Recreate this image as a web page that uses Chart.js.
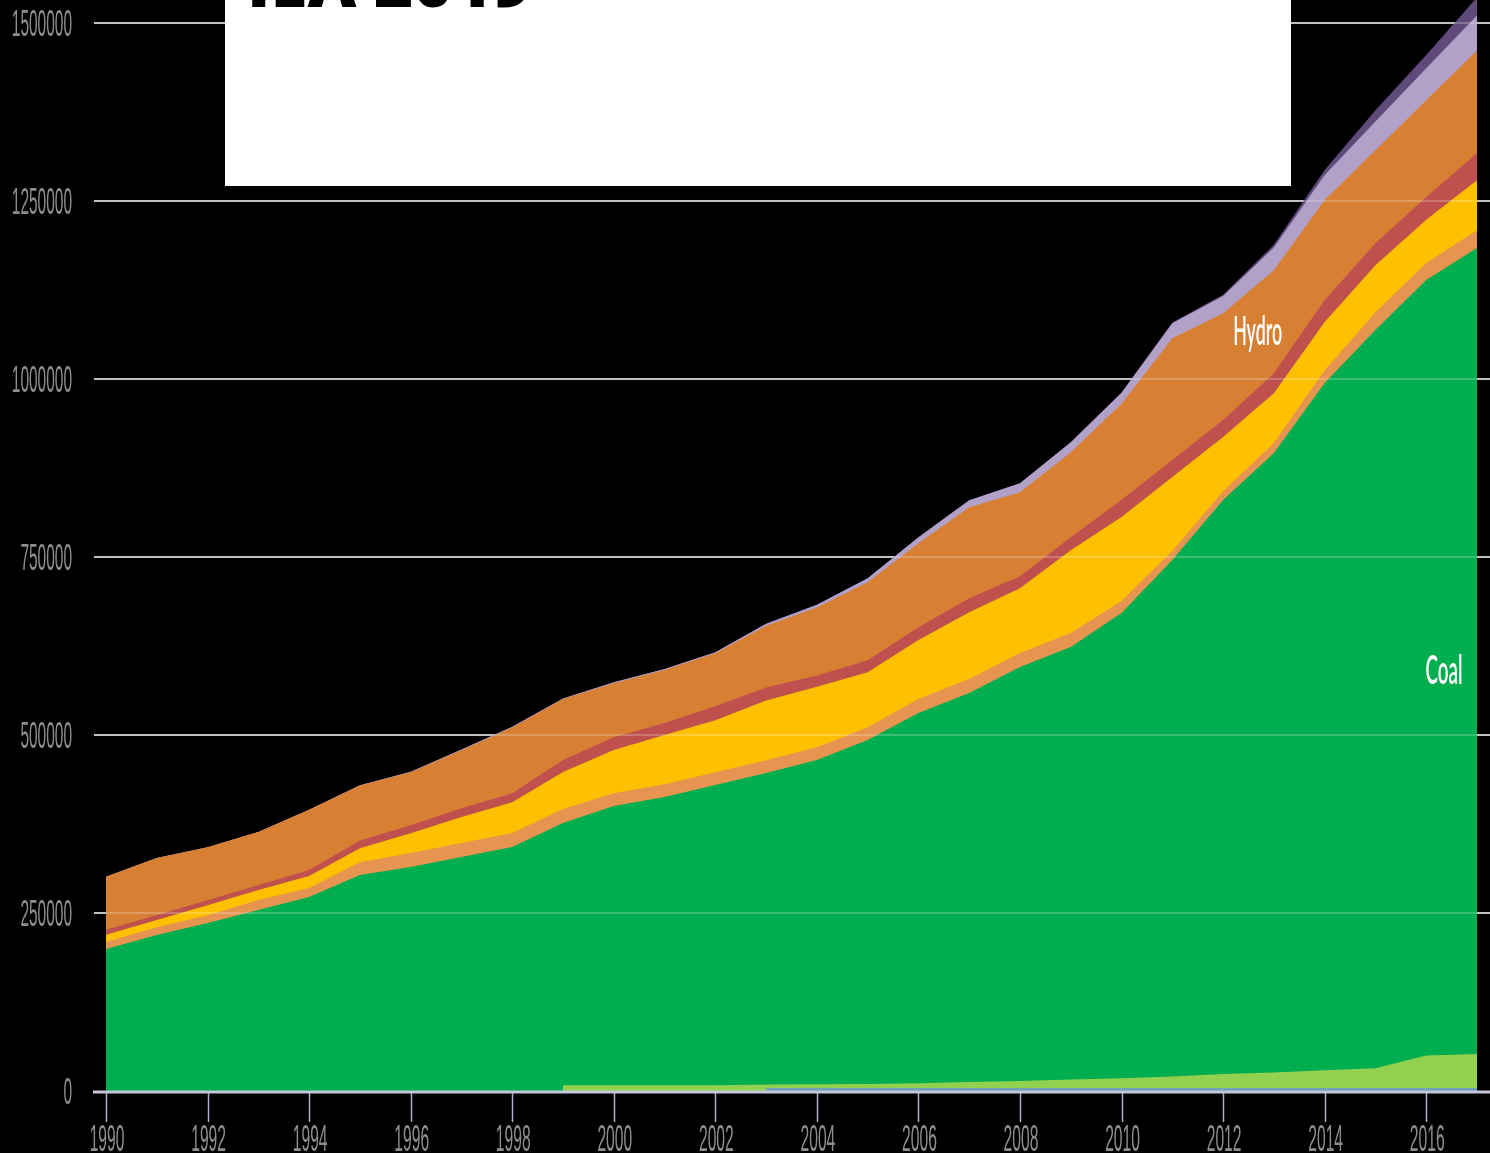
<!DOCTYPE html>
<html>
<head>
<meta charset="utf-8">
<title>India electricity generation by source, 1990-2017 (GWh)</title>
<script src="https://cdn.jsdelivr.net/npm/chart.js@4.4.1/dist/chart.umd.min.js"></script>
<style>
  html, body { margin: 0; padding: 0; background: #000; overflow: hidden; }
  canvas { display: block; }
</style>
</head>
<body>
<canvas id="chart" width="1490" height="1153"></canvas>
<script>
// ---- data (GWh) ----
const years = [1990, 1991, 1992, 1993, 1994, 1995, 1996, 1997, 1998, 1999,
               2000, 2001, 2002, 2003, 2004, 2005, 2006, 2007, 2008, 2009,
               2010, 2011, 2012, 2013, 2014, 2015, 2016, 2017];

const waste = [null, null, null, null, null, null, null, null, null, null,
               null, null, null, 4000, 4000, 4000, 4000, 4000, 4000, 4000,
               4000, 4000, 4000, 4000, 4000, 4000, 4000, 4000];

const biofuels = [null, null, null, null, null, null, null, null, null, 8000,
                  8000, 8000, 8000, 5000, 5500, 6000, 7000, 8500, 10000, 12000,
                  14000, 16500, 20000, 22000, 25000, 28000, 46000, 48000];

const coal = [199400, 219100, 236000, 254200, 272500, 303400, 314600, 328700, 342700, 368400,
              392300, 404900, 421800, 437600, 455400, 483000, 519900, 546500, 581500, 607600,
              653300, 725300, 806000, 870100, 965400, 1036800, 1089000, 1132000];

const oil = [10000, 11000, 11000, 14000, 12500, 18000, 19500, 19500, 19500, 19500,
             18000, 18000, 18000, 18000, 18000, 18000, 19500, 19500, 19500, 19500,
             17000, 12500, 12500, 14000, 18000, 25000, 24000, 25000];

const gas = [10000, 10000, 14000, 14000, 17000, 19500, 28000, 36500, 43500, 52000,
             60500, 69000, 73000, 84000, 85000, 77000, 83000, 94000, 91000, 116500,
             118000, 104000, 76000, 70000, 67500, 66000, 60500, 70000];

const nuclear = [7000, 7000, 7000, 7000, 8500, 11000, 11000, 12500, 12500, 17000,
                 18000, 17000, 19500, 18000, 15500, 17000, 18000, 19500, 17000, 18000,
                 24000, 24000, 24000, 28000, 31000, 31000, 32000, 38000];

const hydro = [74500, 80000, 74500, 74500, 84500, 77000, 74500, 81500, 92500, 85500,
               76000, 74500, 74500, 87000, 95500, 109500, 118000, 128000, 118000, 119500,
               135000, 171000, 150000, 144500, 140500, 130500, 136000, 144500];

const wind = [0, 0, 0, 0, 0, 500, 700, 800, 900, 1000,
              1400, 1400, 1400, 2800, 4200, 5600, 8400, 9800, 12500, 14000,
              15500, 21000, 24000, 32000, 35000, 40500, 45000, 49000];

const solar = [0, 0, 0, 0, 0, 0, 0, 0, 0, 0,
               0, 0, 0, 0, 0, 0, 0, 0, 0, 0,
               100, 1000, 2000, 4000, 7000, 15500, 18500, 25500];

const yTickValues = [0, 250000, 500000, 750000, 1000000, 1250000, 1500000];
const xTickYears = [1990, 1992, 1994, 1996, 1998, 2000, 2002, 2004, 2006, 2008, 2010, 2012, 2014, 2016];

// in-chart area names, anchored in data space
const areaNames = [
  { text: 'Hydro', year: 2012.68, value: 1047800 },
  { text: 'Coal',  year: 2016.35, value: 571600 }
];

// ---- styling ----
const seriesStyle = [
  { label: 'Waste',       data: waste,    color: '#6a9bc6' },
  { label: 'Biofuels',    data: biofuels, color: '#92d050' },
  { label: 'Coal',        data: coal,     color: '#00ad4f' },
  { label: 'Oil',         data: oil,      color: '#e6944f' },
  { label: 'Natural gas', data: gas,      color: '#ffc000' },
  { label: 'Nuclear',     data: nuclear,  color: '#c0504d' },
  { label: 'Hydro',       data: hydro,    color: '#d78034' },
  { label: 'Wind',        data: wind,     color: '#b1a0c8' },
  { label: 'Solar',       data: solar,    color: '#604a7b' }
];
const areaNameWidths = { Hydro: 49, Coal: 37 };

const LABEL_GREY = '#8e8e8e';
const AXIS_FONT = '36px "Liberation Sans", "DejaVu Sans", sans-serif';
const DIGIT_W = 8.6;

// draw text squeezed horizontally to a given width
function squeezed(ctx, text, x, y, width, align) {
  const w = ctx.measureText(text).width || 1;
  ctx.save();
  ctx.translate(x, y);
  ctx.scale(width / w, 1);
  ctx.textAlign = align;
  ctx.fillText(text, 0, 0);
  ctx.restore();
}

// black page behind everything
const backdrop = {
  id: 'backdrop',
  beforeDraw(chart) {
    const ctx = chart.ctx;
    ctx.save();
    ctx.fillStyle = '#000';
    ctx.fillRect(0, 0, chart.width, chart.height);
    ctx.restore();
  }
};

// gridlines seen through the areas, baseline and year ticks
const axisDecor = {
  id: 'axisDecor',
  afterDatasetsDraw(chart) {
    const ctx = chart.ctx;
    const x = chart.scales.x, y = chart.scales.y;
    const area = chart.chartArea;
    ctx.save();
    ctx.strokeStyle = 'rgba(255,255,255,0.22)';
    ctx.lineWidth = 2;
    yTickValues.forEach(v => {
      if (v === 0) return;
      const py = Math.round(y.getPixelForValue(v));
      ctx.beginPath();
      ctx.moveTo(area.left, py);
      ctx.lineTo(area.right, py);
      ctx.stroke();
    });
    const y0 = y.getPixelForValue(0) + 1;
    // year tick marks
    ctx.strokeStyle = '#aab2c8';
    ctx.lineWidth = 1.5;
    xTickYears.forEach(yr => {
      const px = Math.round(x.getPixelForValue(yr)) + 0.5;
      ctx.beginPath();
      ctx.moveTo(px, y0);
      ctx.lineTo(px, 1122);
      ctx.stroke();
    });
    // baseline
    ctx.strokeStyle = '#c4c7da';
    ctx.lineWidth = 3;
    ctx.beginPath();
    ctx.moveTo(area.left - 1, y0);
    ctx.lineTo(area.right, y0);
    ctx.stroke();
    ctx.restore();
  },
  afterDraw(chart) {
    const ctx = chart.ctx;
    const x = chart.scales.x, y = chart.scales.y;
    ctx.save();
    ctx.fillStyle = LABEL_GREY;
    ctx.font = AXIS_FONT;
    ctx.textBaseline = 'alphabetic';
    yTickValues.forEach(v => {
      const t = String(v);
      squeezed(ctx, t, 72, y.getPixelForValue(v) + 13, t.length * DIGIT_W, 'right');
    });
    xTickYears.forEach(yr => {
      const t = String(yr);
      squeezed(ctx, t, x.getPixelForValue(yr) + 1, 1151, t.length * 8.7, 'center');
    });

    // names written on the areas
    ctx.fillStyle = '#ffffff';
    ctx.font = '600 40px Lato, "Open Sans", sans-serif';
    areaNames.forEach(n => {
      squeezed(ctx, n.text, x.getPixelForValue(n.year), y.getPixelForValue(n.value),
               areaNameWidths[n.text], 'center');
    });

    // source box at the top
    ctx.fillStyle = '#ffffff';
    ctx.fillRect(225, 0, 1066, 186);
    ctx.fillStyle = '#000000';
    const src = 'IEA 2019';
    ctx.font = '800 100px "Open Sans", "DejaVu Sans", sans-serif';
    const w100 = ctx.measureText(src).width;
    const size = 100 * 285 / w100;
    ctx.font = '800 ' + size.toFixed(1) + 'px "Open Sans", "DejaVu Sans", sans-serif';
    ctx.textAlign = 'left';
    ctx.fillText(src, 247, 7);
    ctx.restore();
  }
};

const datasets = seriesStyle.map(s => ({
  label: s.label,
  data: years.map((yr, i) => ({ x: yr, y: s.data[i] })),
  backgroundColor: s.color,
  borderColor: s.color,
  borderWidth: 0,
  pointRadius: 0,
  tension: 0,
  fill: 'origin'
}));

new Chart(document.getElementById('chart'), {
  type: 'line',
  data: { datasets },
  options: {
    responsive: false,
    animation: false,
    devicePixelRatio: 1,
    layout: { padding: 0 },
    plugins: {
      legend: { display: false },
      tooltip: { enabled: false },
      title: { display: false }
    },
    scales: {
      x: {
        type: 'linear',
        min: 1989.763,
        max: 2017.256,
        grid: { display: false },
        border: { display: false },
        ticks: { display: false },
        afterFit(scale) { scale.height = 62; }
      },
      y: {
        stacked: true,
        min: 0,
        max: 1532300,
        border: { display: false },
        ticks: { display: false, stepSize: 250000, includeBounds: false },
        afterBuildTicks(scale) {
          scale.ticks = yTickValues.map(v => ({ value: v }));
        },
        grid: {
          drawTicks: false,
          lineWidth: 2,
          color: c => (c.tick && c.tick.value === 0) ? 'rgba(0,0,0,0)' : '#b0b0b0'
        },
        afterFit(scale) { scale.width = 94; }
      }
    }
  },
  plugins: [backdrop, axisDecor]
});
</script>
</body>
</html>
